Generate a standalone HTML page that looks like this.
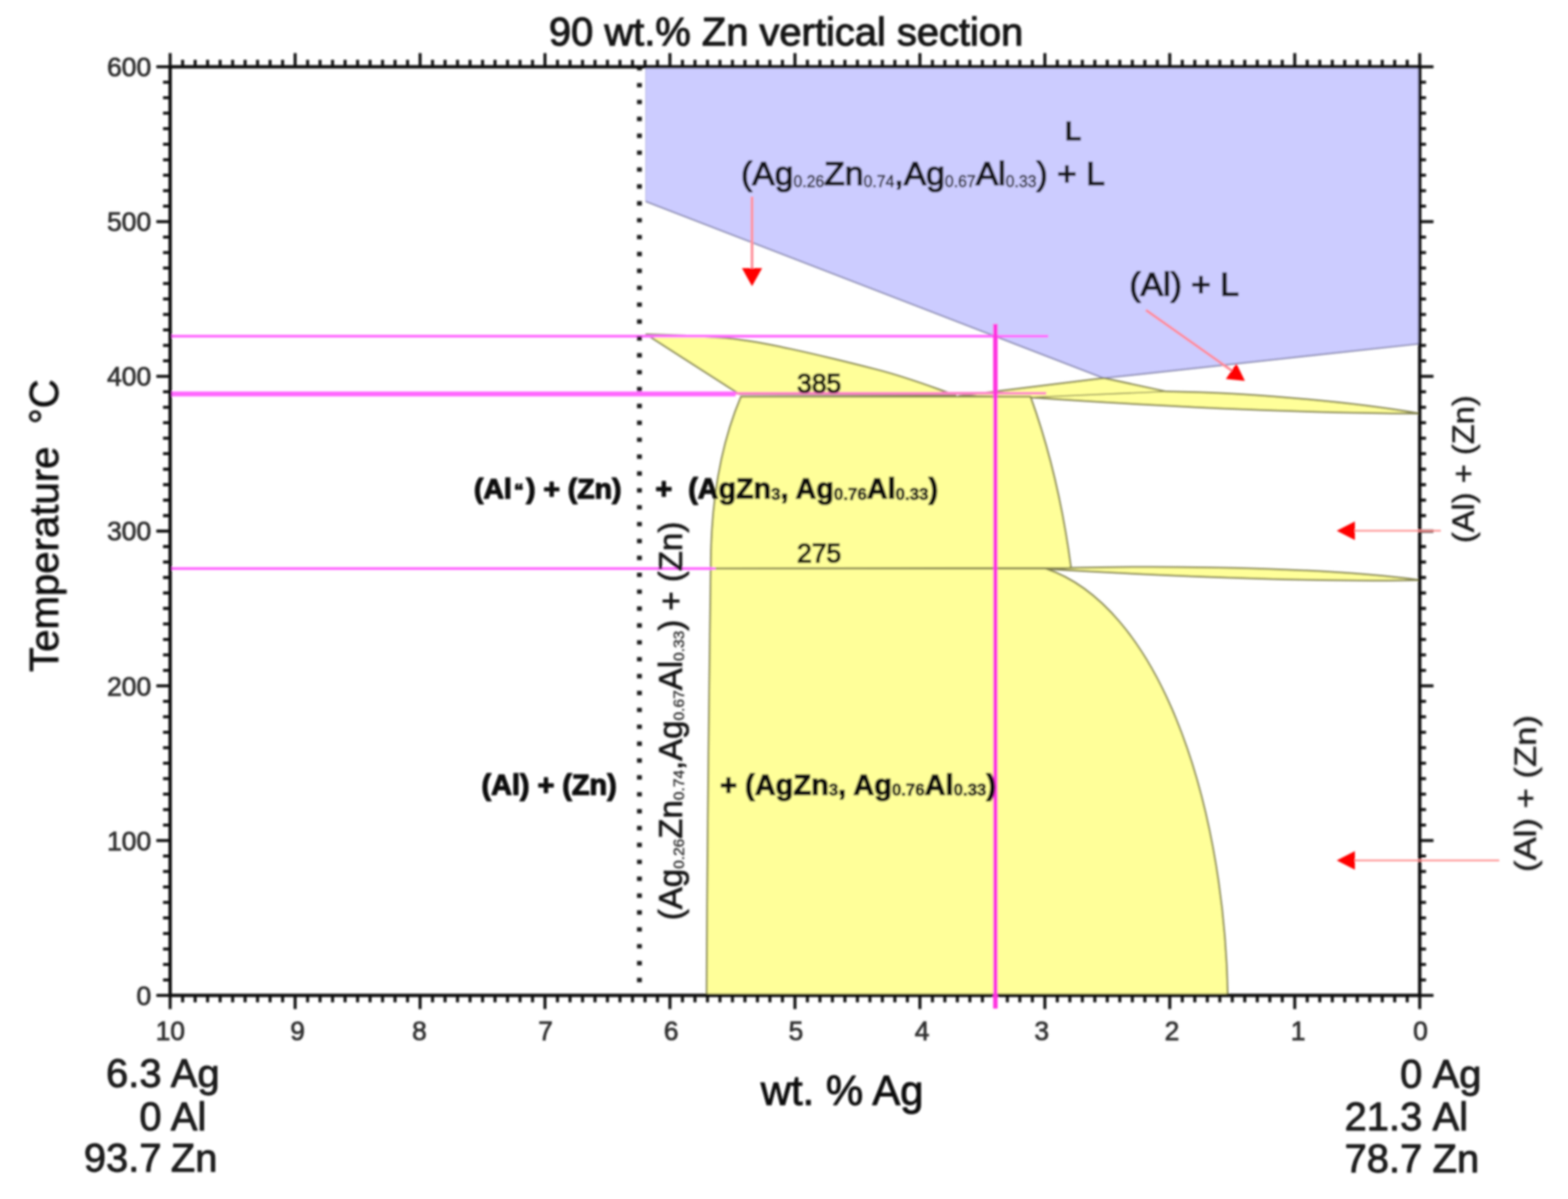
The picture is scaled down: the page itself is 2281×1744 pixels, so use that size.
<!DOCTYPE html>
<html lang="en">
<head>
<meta charset="utf-8">
<title>90 wt.% Zn vertical section</title>
<style>
html,body{margin:0;padding:0;background:#fff;}
body{width:2281px;height:1744px;overflow:hidden;}
svg{display:block;font-family:"Liberation Sans",sans-serif;}
text{white-space:pre;fill:#1a1a1a;stroke:#1a1a1a;stroke-width:1.2px;stroke-linejoin:round;}
.b{font-weight:bold;fill:#0a0a0a;stroke:#0a0a0a;stroke-width:1.7px;}
</style>
</head>
<body>
<svg width="2281" height="1744" viewBox="0 0 2281 1744" role="img" aria-label="90 wt.% Zn vertical section phase diagram">
<defs>
<filter id="bl" x="-5%" y="-5%" width="110%" height="110%"><feGaussianBlur stdDeviation="1.7"/></filter>
</defs>
<rect x="0" y="0" width="2281" height="1744" fill="#ffffff"/>
<g filter="url(#bl)">

<path d="M939.4,97.2 L2065.3,97.2 L2065.3,500 L1605.5,550 L939.4,293 Z" fill="#ccccff" stroke="#b4b4e6" stroke-width="1.2" stroke-linejoin="round"/>
<path d="M2065.3,500 L1605.5,550 L939.4,293" fill="none" stroke="#8686ae" stroke-width="2.2" stroke-linejoin="round"/>
<path d="M940,486.3 C990,487 1020,489 1050,491.3 S1110,499 1150,507.6 S1230,526 1275.5,537.6 S1350,561 1390,575 L1076,573.5 Z" fill="#ffff99" stroke="#84844f" stroke-width="2.5" stroke-linejoin="round"/>
<path d="M1395,576 L1606,550 L1697,569.6 C1800,571 1950,582 2065.3,601.5 C1900,600.5 1730,594 1499,578 Z" fill="#ffff99" stroke="#84844f" stroke-width="2.5" stroke-linejoin="round"/>
<path d="M1499,578 L1696,569.5" fill="none" stroke="#84844f" stroke-width="1.6"/>
<path d="M1078,577 L1499,577 Q1540,690 1558,826 L1034,827 Q1034,680 1078,577 Z" fill="#ffff99" stroke="#84844f" stroke-width="2.5" stroke-linejoin="round"/>
<path d="M1521,827.5 L1558,826 C1750,822 1950,828 2065.3,843.7 C1950,846.5 1750,841 1521,827.5 Z" fill="#ffff99" stroke="#84844f" stroke-width="2.5" stroke-linejoin="round"/>
<path d="M1034,827 L1521,827 C1680,880 1780,1150 1786,1447.8 L1028,1447.8 Q1029,1200 1034,827 Z" fill="#ffff99" stroke="#84844f" stroke-width="2.5" stroke-linejoin="round"/>
<line x1="247.5" y1="489" x2="1525" y2="489" stroke="#ff66ff" stroke-width="3.8"/>
<line x1="247.5" y1="573" x2="1070" y2="573" stroke="#ff66ff" stroke-width="7"/>
<line x1="1070" y1="572" x2="1522" y2="572" stroke="#ff80c8" stroke-width="4"/>
<line x1="247.5" y1="827" x2="1041" y2="827" stroke="#ff66ff" stroke-width="3.8"/>
<line x1="930.2" y1="96.1" x2="930.2" y2="1443.8" stroke="#1e1e1e" stroke-width="7.1" stroke-dasharray="6.4 18.16" stroke-linecap="butt"/>
<rect x="247.5" y="97.2" width="1817.8000000000002" height="1350.6" fill="none" stroke="#0c0c0c" stroke-width="4.9"/>
<path d="M247.5,97.2 v-20 M247.5,1447.8 v20 M265.7,97.2 v-10.3 M265.7,1447.8 v10.3 M283.9,97.2 v-10.3 M283.9,1447.8 v10.3 M302.0,97.2 v-10.3 M302.0,1447.8 v10.3 M320.2,97.2 v-10.3 M320.2,1447.8 v10.3 M338.4,97.2 v-10.3 M338.4,1447.8 v10.3 M356.6,97.2 v-10.3 M356.6,1447.8 v10.3 M374.7,97.2 v-10.3 M374.7,1447.8 v10.3 M392.9,97.2 v-10.3 M392.9,1447.8 v10.3 M411.1,97.2 v-10.3 M411.1,1447.8 v10.3 M429.3,97.2 v-20 M429.3,1447.8 v20 M447.5,97.2 v-10.3 M447.5,1447.8 v10.3 M465.6,97.2 v-10.3 M465.6,1447.8 v10.3 M483.8,97.2 v-10.3 M483.8,1447.8 v10.3 M502.0,97.2 v-10.3 M502.0,1447.8 v10.3 M520.2,97.2 v-10.3 M520.2,1447.8 v10.3 M538.3,97.2 v-10.3 M538.3,1447.8 v10.3 M556.5,97.2 v-10.3 M556.5,1447.8 v10.3 M574.7,97.2 v-10.3 M574.7,1447.8 v10.3 M592.9,97.2 v-10.3 M592.9,1447.8 v10.3 M611.1,97.2 v-20 M611.1,1447.8 v20 M629.2,97.2 v-10.3 M629.2,1447.8 v10.3 M647.4,97.2 v-10.3 M647.4,1447.8 v10.3 M665.6,97.2 v-10.3 M665.6,1447.8 v10.3 M683.8,97.2 v-10.3 M683.8,1447.8 v10.3 M702.0,97.2 v-10.3 M702.0,1447.8 v10.3 M720.1,97.2 v-10.3 M720.1,1447.8 v10.3 M738.3,97.2 v-10.3 M738.3,1447.8 v10.3 M756.5,97.2 v-10.3 M756.5,1447.8 v10.3 M774.7,97.2 v-10.3 M774.7,1447.8 v10.3 M792.8,97.2 v-20 M792.8,1447.8 v20 M811.0,97.2 v-10.3 M811.0,1447.8 v10.3 M829.2,97.2 v-10.3 M829.2,1447.8 v10.3 M847.4,97.2 v-10.3 M847.4,1447.8 v10.3 M865.6,97.2 v-10.3 M865.6,1447.8 v10.3 M883.7,97.2 v-10.3 M883.7,1447.8 v10.3 M901.9,97.2 v-10.3 M901.9,1447.8 v10.3 M920.1,97.2 v-10.3 M920.1,1447.8 v10.3 M938.3,97.2 v-10.3 M938.3,1447.8 v10.3 M956.4,97.2 v-10.3 M956.4,1447.8 v10.3 M974.6,97.2 v-20 M974.6,1447.8 v20 M992.8,97.2 v-10.3 M992.8,1447.8 v10.3 M1011.0,97.2 v-10.3 M1011.0,1447.8 v10.3 M1029.2,97.2 v-10.3 M1029.2,1447.8 v10.3 M1047.3,97.2 v-10.3 M1047.3,1447.8 v10.3 M1065.5,97.2 v-10.3 M1065.5,1447.8 v10.3 M1083.7,97.2 v-10.3 M1083.7,1447.8 v10.3 M1101.9,97.2 v-10.3 M1101.9,1447.8 v10.3 M1120.0,97.2 v-10.3 M1120.0,1447.8 v10.3 M1138.2,97.2 v-10.3 M1138.2,1447.8 v10.3 M1156.4,97.2 v-20 M1156.4,1447.8 v20 M1174.6,97.2 v-10.3 M1174.6,1447.8 v10.3 M1192.8,97.2 v-10.3 M1192.8,1447.8 v10.3 M1210.9,97.2 v-10.3 M1210.9,1447.8 v10.3 M1229.1,97.2 v-10.3 M1229.1,1447.8 v10.3 M1247.3,97.2 v-10.3 M1247.3,1447.8 v10.3 M1265.5,97.2 v-10.3 M1265.5,1447.8 v10.3 M1283.6,97.2 v-10.3 M1283.6,1447.8 v10.3 M1301.8,97.2 v-10.3 M1301.8,1447.8 v10.3 M1320.0,97.2 v-10.3 M1320.0,1447.8 v10.3 M1338.2,97.2 v-20 M1338.2,1447.8 v20 M1356.4,97.2 v-10.3 M1356.4,1447.8 v10.3 M1374.5,97.2 v-10.3 M1374.5,1447.8 v10.3 M1392.7,97.2 v-10.3 M1392.7,1447.8 v10.3 M1410.9,97.2 v-10.3 M1410.9,1447.8 v10.3 M1429.1,97.2 v-10.3 M1429.1,1447.8 v10.3 M1447.2,97.2 v-10.3 M1447.2,1447.8 v10.3 M1465.4,97.2 v-10.3 M1465.4,1447.8 v10.3 M1483.6,97.2 v-10.3 M1483.6,1447.8 v10.3 M1501.8,97.2 v-10.3 M1501.8,1447.8 v10.3 M1520.0,97.2 v-20 M1520.0,1447.8 v20 M1538.1,97.2 v-10.3 M1538.1,1447.8 v10.3 M1556.3,97.2 v-10.3 M1556.3,1447.8 v10.3 M1574.5,97.2 v-10.3 M1574.5,1447.8 v10.3 M1592.7,97.2 v-10.3 M1592.7,1447.8 v10.3 M1610.8,97.2 v-10.3 M1610.8,1447.8 v10.3 M1629.0,97.2 v-10.3 M1629.0,1447.8 v10.3 M1647.2,97.2 v-10.3 M1647.2,1447.8 v10.3 M1665.4,97.2 v-10.3 M1665.4,1447.8 v10.3 M1683.6,97.2 v-10.3 M1683.6,1447.8 v10.3 M1701.7,97.2 v-20 M1701.7,1447.8 v20 M1719.9,97.2 v-10.3 M1719.9,1447.8 v10.3 M1738.1,97.2 v-10.3 M1738.1,1447.8 v10.3 M1756.3,97.2 v-10.3 M1756.3,1447.8 v10.3 M1774.5,97.2 v-10.3 M1774.5,1447.8 v10.3 M1792.6,97.2 v-10.3 M1792.6,1447.8 v10.3 M1810.8,97.2 v-10.3 M1810.8,1447.8 v10.3 M1829.0,97.2 v-10.3 M1829.0,1447.8 v10.3 M1847.2,97.2 v-10.3 M1847.2,1447.8 v10.3 M1865.3,97.2 v-10.3 M1865.3,1447.8 v10.3 M1883.5,97.2 v-20 M1883.5,1447.8 v20 M1901.7,97.2 v-10.3 M1901.7,1447.8 v10.3 M1919.9,97.2 v-10.3 M1919.9,1447.8 v10.3 M1938.1,97.2 v-10.3 M1938.1,1447.8 v10.3 M1956.2,97.2 v-10.3 M1956.2,1447.8 v10.3 M1974.4,97.2 v-10.3 M1974.4,1447.8 v10.3 M1992.6,97.2 v-10.3 M1992.6,1447.8 v10.3 M2010.8,97.2 v-10.3 M2010.8,1447.8 v10.3 M2028.9,97.2 v-10.3 M2028.9,1447.8 v10.3 M2047.1,97.2 v-10.3 M2047.1,1447.8 v10.3 M2065.3,97.2 v-20 M2065.3,1447.8 v20 M247.5,1447.8 h-20 M2065.3,1447.8 h20 M247.5,1425.3 h-10.3 M2065.3,1425.3 h9.1 M247.5,1402.8 h-10.3 M2065.3,1402.8 h9.1 M247.5,1380.3 h-10.3 M2065.3,1380.3 h9.1 M247.5,1357.8 h-10.3 M2065.3,1357.8 h9.1 M247.5,1335.2 h-10.3 M2065.3,1335.2 h9.1 M247.5,1312.7 h-10.3 M2065.3,1312.7 h9.1 M247.5,1290.2 h-10.3 M2065.3,1290.2 h9.1 M247.5,1267.7 h-10.3 M2065.3,1267.7 h9.1 M247.5,1245.2 h-10.3 M2065.3,1245.2 h9.1 M247.5,1222.7 h-20 M2065.3,1222.7 h20 M247.5,1200.2 h-10.3 M2065.3,1200.2 h9.1 M247.5,1177.7 h-10.3 M2065.3,1177.7 h9.1 M247.5,1155.2 h-10.3 M2065.3,1155.2 h9.1 M247.5,1132.7 h-10.3 M2065.3,1132.7 h9.1 M247.5,1110.2 h-10.3 M2065.3,1110.2 h9.1 M247.5,1087.6 h-10.3 M2065.3,1087.6 h9.1 M247.5,1065.1 h-10.3 M2065.3,1065.1 h9.1 M247.5,1042.6 h-10.3 M2065.3,1042.6 h9.1 M247.5,1020.1 h-10.3 M2065.3,1020.1 h9.1 M247.5,997.6 h-20 M2065.3,997.6 h20 M247.5,975.1 h-10.3 M2065.3,975.1 h9.1 M247.5,952.6 h-10.3 M2065.3,952.6 h9.1 M247.5,930.1 h-10.3 M2065.3,930.1 h9.1 M247.5,907.6 h-10.3 M2065.3,907.6 h9.1 M247.5,885.0 h-10.3 M2065.3,885.0 h9.1 M247.5,862.5 h-10.3 M2065.3,862.5 h9.1 M247.5,840.0 h-10.3 M2065.3,840.0 h9.1 M247.5,817.5 h-10.3 M2065.3,817.5 h9.1 M247.5,795.0 h-10.3 M2065.3,795.0 h9.1 M247.5,772.5 h-20 M2065.3,772.5 h20 M247.5,750.0 h-10.3 M2065.3,750.0 h9.1 M247.5,727.5 h-10.3 M2065.3,727.5 h9.1 M247.5,705.0 h-10.3 M2065.3,705.0 h9.1 M247.5,682.5 h-10.3 M2065.3,682.5 h9.1 M247.5,659.9 h-10.3 M2065.3,659.9 h9.1 M247.5,637.4 h-10.3 M2065.3,637.4 h9.1 M247.5,614.9 h-10.3 M2065.3,614.9 h9.1 M247.5,592.4 h-10.3 M2065.3,592.4 h9.1 M247.5,569.9 h-10.3 M2065.3,569.9 h9.1 M247.5,547.4 h-20 M2065.3,547.4 h20 M247.5,524.9 h-10.3 M2065.3,524.9 h9.1 M247.5,502.4 h-10.3 M2065.3,502.4 h9.1 M247.5,479.9 h-10.3 M2065.3,479.9 h9.1 M247.5,457.4 h-10.3 M2065.3,457.4 h9.1 M247.5,434.9 h-10.3 M2065.3,434.9 h9.1 M247.5,412.3 h-10.3 M2065.3,412.3 h9.1 M247.5,389.8 h-10.3 M2065.3,389.8 h9.1 M247.5,367.3 h-10.3 M2065.3,367.3 h9.1 M247.5,344.8 h-10.3 M2065.3,344.8 h9.1 M247.5,322.3 h-20 M2065.3,322.3 h20 M247.5,299.8 h-10.3 M2065.3,299.8 h9.1 M247.5,277.3 h-10.3 M2065.3,277.3 h9.1 M247.5,254.8 h-10.3 M2065.3,254.8 h9.1 M247.5,232.3 h-10.3 M2065.3,232.3 h9.1 M247.5,209.8 h-10.3 M2065.3,209.8 h9.1 M247.5,187.2 h-10.3 M2065.3,187.2 h9.1 M247.5,164.7 h-10.3 M2065.3,164.7 h9.1 M247.5,142.2 h-10.3 M2065.3,142.2 h9.1 M247.5,119.7 h-10.3 M2065.3,119.7 h9.1 M247.5,97.2 h-20 M2065.3,97.2 h20" fill="none" stroke="#0c0c0c" stroke-width="4.3"/>
<line x1="1448" y1="471" x2="1448" y2="1467" stroke="#ff33e0" stroke-width="6.5"/>
<line x1="1094" y1="286" x2="1094" y2="395" stroke="#ff929c" stroke-width="4"/>
<path d="M1079.3,390 L1108.7,390 L1094,416.3 Z" fill="#ff0000"/>
<line x1="1667" y1="451" x2="1796" y2="542" stroke="#ff8894" stroke-width="3.6"/>
<path d="M1783.3,551.3 L1798.6,528.7 L1811,554 Z" fill="#ff0000"/>
<line x1="1968" y1="772" x2="2096" y2="772" stroke="#ff9090" stroke-width="2.3"/>
<path d="M1944.5,772 L1971,758.5 L1971,785.5 Z" fill="#ff0000"/>
<line x1="1968" y1="1251.5" x2="2181" y2="1251.5" stroke="#ff9090" stroke-width="2.3"/>
<path d="M1944.5,1251.5 L1971,1238 L1971,1265 Z" fill="#ff0000"/>
<text x="1143.5" y="66.3" font-size="58" text-anchor="middle" style="stroke-width:1.6px;fill:#161616;stroke:#161616;">90 wt.% Zn vertical section</text>
<text x="220" y="1461.7" font-size="38.6" text-anchor="end" style="stroke-width:1.1px;fill:#303030;stroke:#303030;">0</text>
<text x="220" y="1236.6" font-size="38.6" text-anchor="end" style="stroke-width:1.1px;fill:#303030;stroke:#303030;">100</text>
<text x="220" y="1011.5" font-size="38.6" text-anchor="end" style="stroke-width:1.1px;fill:#303030;stroke:#303030;">200</text>
<text x="220" y="786.4" font-size="38.6" text-anchor="end" style="stroke-width:1.1px;fill:#303030;stroke:#303030;">300</text>
<text x="220" y="561.3" font-size="38.6" text-anchor="end" style="stroke-width:1.1px;fill:#303030;stroke:#303030;">400</text>
<text x="220" y="336.2" font-size="38.6" text-anchor="end" style="stroke-width:1.1px;fill:#303030;stroke:#303030;">500</text>
<text x="220" y="111.1" font-size="38.6" text-anchor="end" style="stroke-width:1.1px;fill:#303030;stroke:#303030;">600</text>
<text x="2066.5" y="1512.6" font-size="38.3" text-anchor="middle" style="stroke-width:1.1px;fill:#303030;stroke:#303030;">0</text>
<text x="1888.3" y="1512.6" font-size="38.3" text-anchor="middle" style="stroke-width:1.1px;fill:#303030;stroke:#303030;">1</text>
<text x="1705.0" y="1512.6" font-size="38.3" text-anchor="middle" style="stroke-width:1.1px;fill:#303030;stroke:#303030;">2</text>
<text x="1515.3" y="1512.6" font-size="38.3" text-anchor="middle" style="stroke-width:1.1px;fill:#303030;stroke:#303030;">3</text>
<text x="1341.5" y="1512.6" font-size="38.3" text-anchor="middle" style="stroke-width:1.1px;fill:#303030;stroke:#303030;">4</text>
<text x="1158.0" y="1512.6" font-size="38.3" text-anchor="middle" style="stroke-width:1.1px;fill:#303030;stroke:#303030;">5</text>
<text x="976.4" y="1512.6" font-size="38.3" text-anchor="middle" style="stroke-width:1.1px;fill:#303030;stroke:#303030;">6</text>
<text x="793.6" y="1512.6" font-size="38.3" text-anchor="middle" style="stroke-width:1.1px;fill:#303030;stroke:#303030;">7</text>
<text x="610.1" y="1512.6" font-size="38.3" text-anchor="middle" style="stroke-width:1.1px;fill:#303030;stroke:#303030;">8</text>
<text x="433.0" y="1512.6" font-size="38.3" text-anchor="middle" style="stroke-width:1.1px;fill:#303030;stroke:#303030;">9</text>
<text x="247.8" y="1512.6" font-size="38.3" text-anchor="middle" style="stroke-width:1.1px;fill:#303030;stroke:#303030;">10</text>
<text transform="translate(84.5,764.5) rotate(-90) scale(0.98,1)" font-size="59.6" text-anchor="middle" style="stroke-width:1.0px;fill:#0c0c0c;stroke:#0c0c0c;" xml:space="preserve">Temperature  °C</text>
<text x="1225.1" y="1607.2" font-size="60.8" text-anchor="middle" style="stroke-width:1.3px;fill:#0a0a0a;stroke:#0a0a0a;">wt. % Ag</text>
<text x="235" y="1580.8" font-size="58" text-anchor="end" style="stroke-width:1.3px;fill:#1a1a1a;stroke:#1a1a1a;">6.3</text>
<text x="248.5" y="1580.8" font-size="58" text-anchor="start" style="stroke-width:1.3px;fill:#1a1a1a;stroke:#1a1a1a;">Ag</text>
<text x="235" y="1643.6" font-size="58" text-anchor="end" style="stroke-width:1.3px;fill:#1a1a1a;stroke:#1a1a1a;">0</text>
<text x="248.5" y="1643.6" font-size="58" text-anchor="start" style="stroke-width:1.3px;fill:#1a1a1a;stroke:#1a1a1a;">Al</text>
<text x="235" y="1704.3" font-size="58" text-anchor="end" style="stroke-width:1.3px;fill:#1a1a1a;stroke:#1a1a1a;">93.7</text>
<text x="248.5" y="1704.3" font-size="58" text-anchor="start" style="stroke-width:1.3px;fill:#1a1a1a;stroke:#1a1a1a;">Zn</text>
<text x="2069" y="1582.3" font-size="58" text-anchor="end" style="stroke-width:1.3px;fill:#1a1a1a;stroke:#1a1a1a;">0</text>
<text x="2084" y="1582.3" font-size="58" text-anchor="start" style="stroke-width:1.3px;fill:#1a1a1a;stroke:#1a1a1a;">Ag</text>
<text x="2069" y="1643.6" font-size="58" text-anchor="end" style="stroke-width:1.3px;fill:#1a1a1a;stroke:#1a1a1a;">21.3</text>
<text x="2084" y="1643.6" font-size="58" text-anchor="start" style="stroke-width:1.3px;fill:#1a1a1a;stroke:#1a1a1a;">Al</text>
<text x="2069" y="1704.6" font-size="58" text-anchor="end" style="stroke-width:1.3px;fill:#1a1a1a;stroke:#1a1a1a;">78.7</text>
<text x="2084" y="1704.6" font-size="58" text-anchor="start" style="stroke-width:1.3px;fill:#1a1a1a;stroke:#1a1a1a;">Zn</text>
<text x="1549.3" y="204.2" font-size="39" text-anchor="start" class="b" style="stroke-width:0.9px;fill:#161616;stroke:#161616;">L</text>
<text x="1078" y="268.6" font-size="49" text-anchor="start" style="stroke-width:2.0px;fill:#15151a;stroke:#15151a;"><tspan>(Ag</tspan><tspan font-size="0.47em" dy="3.2" style="fill:#26262e;stroke:#26262e;stroke-width:0.8px">0.26</tspan><tspan dy="-3.2">Zn</tspan><tspan font-size="0.47em" dy="3.2" style="fill:#26262e;stroke:#26262e;stroke-width:0.8px">0.74</tspan><tspan dy="-3.2">,Ag</tspan><tspan font-size="0.47em" dy="3.2" style="fill:#26262e;stroke:#26262e;stroke-width:0.8px">0.67</tspan><tspan dy="-3.2">Al</tspan><tspan font-size="0.47em" dy="3.2" style="fill:#26262e;stroke:#26262e;stroke-width:0.8px">0.33</tspan><tspan dy="-3.2">)</tspan><tspan> + L</tspan></text>
<text x="1643" y="429.8" font-size="49" text-anchor="start" style="stroke-width:2.2px;fill:#15151a;stroke:#15151a;">(Al) + L</text>
<text x="1159.5" y="570.5" font-size="38.5" text-anchor="start" style="stroke-width:2.0px;fill:#1a1a10;stroke:#1a1a10;">385</text>
<text x="1159.5" y="817.5" font-size="38.5" text-anchor="start" style="stroke-width:2.0px;fill:#1a1a10;stroke:#1a1a10;">275</text>
<text transform="translate(992,1338.5) rotate(-90)" font-size="48.0" text-anchor="start" style="stroke-width:1.05px;fill:#181818;stroke:#181818;" xml:space="preserve"><tspan>(Ag</tspan><tspan font-size="0.47em" dy="2.8" style="fill:#303030;stroke:#303030;stroke-width:0.6px">0.26</tspan><tspan dy="-2.8">Zn</tspan><tspan font-size="0.47em" dy="2.8" style="fill:#303030;stroke:#303030;stroke-width:0.6px">0.74</tspan><tspan dy="-2.8">,Ag</tspan><tspan font-size="0.47em" dy="2.8" style="fill:#303030;stroke:#303030;stroke-width:0.6px">0.67</tspan><tspan dy="-2.8">Al</tspan><tspan font-size="0.47em" dy="2.8" style="fill:#303030;stroke:#303030;stroke-width:0.6px">0.33</tspan><tspan dy="-2.8">)</tspan><tspan> + (Zn)</tspan></text>
<text transform="translate(2143.8,790) rotate(-90) scale(1.056,1)" font-size="45" text-anchor="start" style="stroke-width:0.7px;" xml:space="preserve">(Al) + (Zn)</text>
<text transform="translate(2234.3,1268.3) rotate(-90) scale(1.12,1)" font-size="45" text-anchor="start" style="stroke-width:0.7px;" xml:space="preserve">(Al) + (Zn)</text>
<text x="689.5" y="725" font-size="41.3" class="b">(Al<tspan font-size="0.66em" dx="3.4" dy="-2.5">“</tspan><tspan dx="3.6" dy="2.5">) + (Zn)</tspan></text>
<text x="953.5" y="725" font-size="41.8" class="b" xml:space="preserve"><tspan>+  </tspan><tspan>(AgZn</tspan><tspan font-size="0.59em" dy="1.5" style="fill:#1a1a1a;stroke:#1a1a1a;stroke-width:1.0px">3</tspan><tspan dy="-1.5">, Ag</tspan><tspan font-size="0.59em" dy="1.5" style="fill:#1a1a1a;stroke:#1a1a1a;stroke-width:1.0px">0.76</tspan><tspan dy="-1.5">Al</tspan><tspan font-size="0.59em" dy="1.5" style="fill:#1a1a1a;stroke:#1a1a1a;stroke-width:1.0px">0.33</tspan><tspan dy="-1.5">)</tspan></text>
<text x="700.5" y="1155.5" font-size="41.9" text-anchor="start" class="b">(Al) + (Zn)</text>
<text x="1047.5" y="1155.5" font-size="42.2" class="b" xml:space="preserve"><tspan>+ </tspan><tspan>(AgZn</tspan><tspan font-size="0.58em" dy="1.5" style="fill:#1a1a1a;stroke:#1a1a1a;stroke-width:1.0px">3</tspan><tspan dy="-1.5">, Ag</tspan><tspan font-size="0.58em" dy="1.5" style="fill:#1a1a1a;stroke:#1a1a1a;stroke-width:1.0px">0.76</tspan><tspan dy="-1.5">Al</tspan><tspan font-size="0.58em" dy="1.5" style="fill:#1a1a1a;stroke:#1a1a1a;stroke-width:1.0px">0.33</tspan><tspan dy="-1.5">)</tspan></text>
</g>
</svg>
</body>
</html>
